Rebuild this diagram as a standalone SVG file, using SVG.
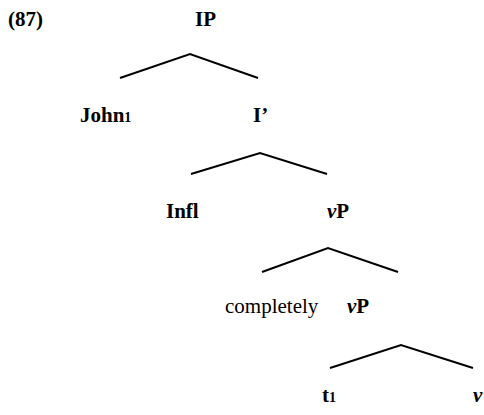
<svg xmlns="http://www.w3.org/2000/svg" width="484" height="415" viewBox="0 0 484 415">
<style>
text{font-family:"Liberation Serif","Times New Roman",serif;font-size:21px;fill:#000}
.b{font-weight:bold}
.i{font-style:italic}
.sub{font-size:14px}
.edge{stroke:#000;stroke-width:2;fill:none;stroke-linejoin:miter}
</style>
<rect width="484" height="415" fill="#fff"/>
<text id="label87" class="b" x="8" y="26">(87)</text>
<g id="connectors">
<polyline class="edge" points="120,78 190,54 258,78"/>
<polyline class="edge" points="191,174 260,153 327,174"/>
<polyline class="edge" points="262,272 328,248 398,272"/>
<polyline class="edge" points="330,368 401,345 473,368"/>
</g>
<g id="IP"><text class="b" x="195" y="26">IP</text></g>
<g id="John"><text class="b" x="80" y="122">John<tspan class="sub">1</tspan></text></g>
<g id="Ibar"><text class="b" x="253" y="122">I’</text></g>
<g id="Infl"><text class="b" x="166" y="218">Infl</text></g>
<g id="vP1"><text class="b" x="327" y="218"><tspan class="i">v</tspan>P</text></g>
<g id="completely"><text x="225" y="313">completely</text></g>
<g id="vP2"><text class="b" x="347" y="313"><tspan class="i">v</tspan>P</text></g>
<g id="t1"><text class="b" x="322" y="402">t<tspan class="sub">1</tspan></text></g>
<g id="v"><text class="b i" x="473" y="402">v</text></g>
</svg>
